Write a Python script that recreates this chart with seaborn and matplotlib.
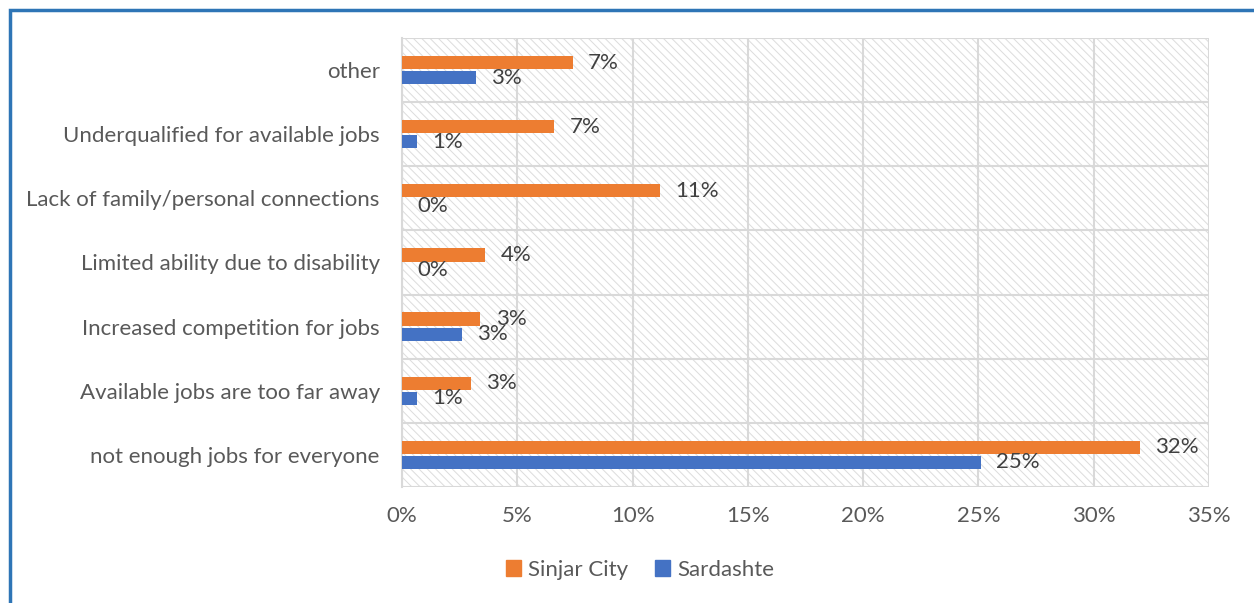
import matplotlib
matplotlib.use("Agg")
import matplotlib.pyplot as plt
import matplotlib.patches as mpatches
from matplotlib.ticker import FixedLocator
import seaborn as sns
import pandas as pd

categories = [
    "other",
    "Underqualified for available jobs",
    "Lack of family/personal connections",
    "Limited ability due to disability",
    "Increased competition for jobs",
    "Available jobs are too far away",
    "not enough jobs for everyone",
]
sinjar_city = [7.4, 6.6, 11.2, 3.6, 3.4, 3.0, 32.0]
sardashte = [3.2, 0.65, 0.0, 0.0, 2.6, 0.65, 25.1]
series_names = ["Sinjar City", "Sardashte"]
x_ticks = [0, 5, 10, 15, 20, 25, 30, 35]

colors = {"Sinjar City": "#ED7D31", "Sardashte": "#4472C4"}

df = pd.DataFrame({
    "category": categories * 2,
    "value": sinjar_city + sardashte,
    "series": [series_names[0]] * len(categories) + [series_names[1]] * len(categories),
})

sns.set_theme(style="white")
plt.rcParams["font.family"] = ["Lato", "DejaVu Sans"]
plt.rcParams["hatch.color"] = "#DCDCDC"
plt.rcParams["hatch.linewidth"] = 0.7

FS = 16
fig = plt.figure(figsize=(12.54, 6.03), dpi=100)
ax = fig.add_axes([402 / 1254, 1 - 487 / 603, (1209 - 402) / 1254, (487 - 38) / 603])

# hatched background
bg = mpatches.Rectangle((0, 0), 1, 1, transform=ax.transAxes, facecolor="white",
                        edgecolor="#DCDCDC", hatch="\\" * 4, linewidth=0, zorder=-1)
ax.add_patch(bg)

sns.barplot(data=df, y="category", x="value", hue="series", order=categories,
            hue_order=series_names, palette=colors, orient="h", width=0.47,
            gap=0.12, saturation=1, ax=ax, legend=False, linewidth=0, zorder=3)

for cont in ax.containers:
    for t in ax.bar_label(cont, fmt="{:.0f}%", padding=11, fontsize=FS, color="#404040"):
        x, y = t.get_position()
        t.set_va("center")

ax.set_xlim(0, 35)
ax.set_ylim(len(categories) - 0.5, -0.5)
ax.set_xticks(x_ticks)
ax.set_xticklabels([f"{t}%" for t in x_ticks], fontsize=FS, color="#595959")
ax.tick_params(axis="x", length=0, pad=14)
ax.tick_params(axis="y", which="major", length=0, pad=16, labelsize=FS, labelcolor="#595959")
ax.yaxis.set_minor_locator(FixedLocator([i - 0.5 for i in range(len(categories) + 1)]))
ax.tick_params(axis="y", which="minor", length=7, color="#D9D9D9", width=1.5)
ax.set_xlabel("")
ax.set_ylabel("")

ax.set_axisbelow(True)
ax.grid(True, axis="x", color="#D9D9D9", linewidth=1.5)
ax.grid(True, axis="y", which="minor", color="#D9D9D9", linewidth=1.5)
ax.grid(False, axis="y", which="major")
for s in ax.spines.values():
    s.set_visible(False)
ax.spines["left"].set_visible(True)
ax.spines["left"].set_color("#D9D9D9")
ax.spines["left"].set_linewidth(1.5)

handles = [mpatches.Patch(color=colors[n], label=n) for n in series_names]
fig.legend(handles=handles, loc="center", bbox_to_anchor=(640 / 1254, 1 - 570 / 603),
           ncol=2, frameon=False, fontsize=FS, handlelength=0.7, handleheight=0.7,
           handletextpad=0.3, columnspacing=1.2, labelcolor="#595959")

# outer blue frame
frame = mpatches.Rectangle((10 / 1254, -0.2), 1.2, 1 - 10 / 603 + 0.2, transform=fig.transFigure,
                           fill=False, edgecolor="#2E75B6", linewidth=2.5, clip_on=False)
fig.patches.append(frame)

fig.savefig("out.png", dpi=100)
